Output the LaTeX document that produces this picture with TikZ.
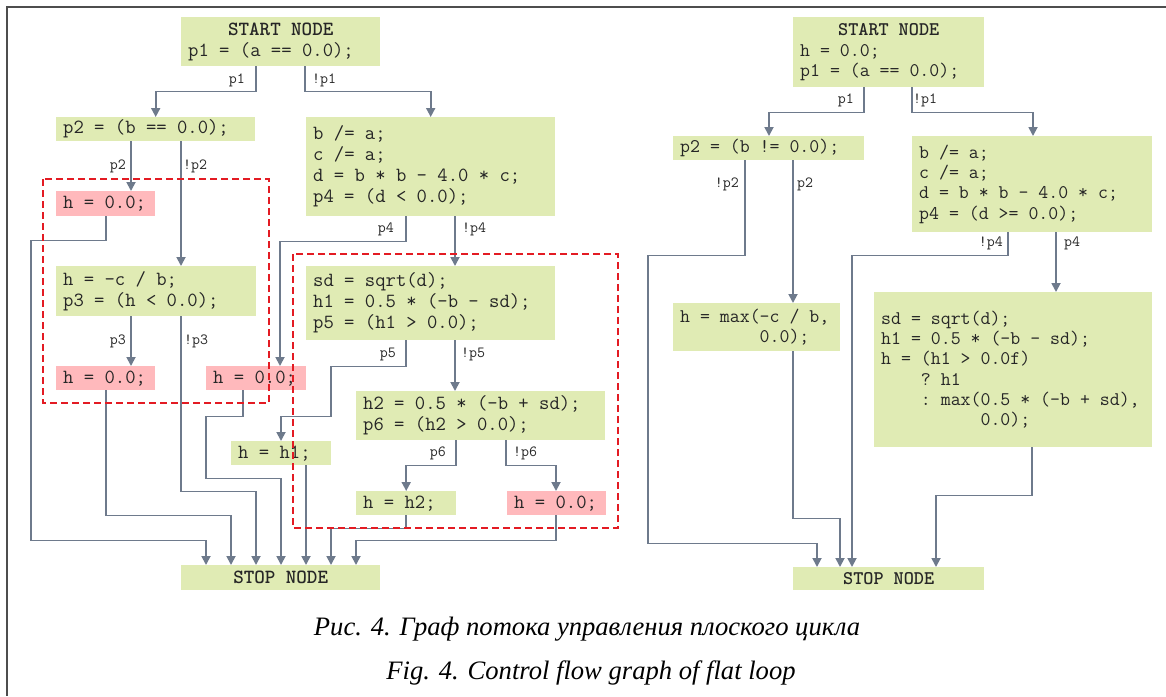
\documentclass[tikz,border=0pt]{standalone}
\usepackage{fontspec}
\setmainfont{Liberation Serif}
\usetikzlibrary{arrows.meta}
\definecolor{bgreen}{HTML}{E0EBB4}
\definecolor{bpink}{HTML}{FFB9BC}
\definecolor{arrgray}{HTML}{6E7A8C}
\definecolor{dred}{HTML}{E31B23}
\definecolor{codetxt}{HTML}{262626}
\definecolor{framegray}{HTML}{4D4D4D}
\newcommand\codeL{\fontsize{20.1}{21}\selectfont\ttfamily}
\newcommand\codeR{\fontsize{19.3}{20.3}\selectfont\ttfamily}
\newcommand\lblfont{\fontsize{15.5}{17}\selectfont\ttfamily}
\newcommand\fixspace{\spaceskip=\fontcharwd\font`\0\relax\xspaceskip=\fontcharwd\font`\0\relax}
\tikzset{
  cbox/.style={fill=bgreen, anchor=north west, inner xsep=7pt, inner ysep=0pt, align=left, font=\codeL, text=codetxt, execute at begin node=\fixspace},
  rbox/.style={cbox, font=\codeR},
  pbox/.style={cbox, fill=bpink},
  lbl/.style={font=\lblfont, text=codetxt, inner sep=0pt},
  arr/.style={draw=arrgray, line width=1.8pt, -{Triangle[length=9pt,width=9pt]}},
  redbox/.style={draw=dred, line width=2pt, dash pattern=on 7pt off 4pt},
  captxt/.style={font=\fontsize{26.6}{30}\selectfont\itshape, text=black, inner sep=0pt}
}
\begin{document}
\begin{tikzpicture}[x=1pt,y=-1pt]
\useasboundingbox (0,0) rectangle (1166,696);
\fill[white] (0,0) rectangle (1166,696);
\draw[framegray, line width=2.5pt] (1166,7) -- (7,7) -- (7,696);

% ---------- left graph: nodes ----------
\node[cbox, text width=185pt, minimum height=49pt] (s1) at (181,17) {\makebox[185pt]{\bfseries START NODE}\\p1 = (a == 0.0);};
\node[cbox, text width=185pt, minimum height=24pt] (p2a) at (56,117) {p2 = (b == 0.0);};
\node[cbox, text width=235pt, minimum height=99pt] (ba1) at (306,117) {b /= a;\\c /= a;\\d = b * b - 4.0 * c;\\p4 = (d < 0.0);};
\node[pbox, text width=85pt, minimum height=25pt] (h0a) at (56,191) {\mbox{h = 0.0;}};
\node[cbox, text width=186pt, minimum height=50pt] (hcb) at (56,266) {h = -c / b;\\p3 = (h < 0.0);};
\node[pbox, text width=85pt, minimum height=24pt] (h0b) at (56,366) {\mbox{h = 0.0;}};
\node[pbox, text width=86pt, minimum height=24pt] (h0c) at (206,366) {\mbox{h = 0.0;}};
\node[cbox, text width=235pt, minimum height=74pt] (sd1) at (306,266) {sd = sqrt(d);\\h1 = 0.5 * (-b - sd);\\p5 = (h1 > 0.0);};
\node[cbox, text width=235pt, minimum height=49pt] (h2b) at (356,391) {h2 = 0.5 * (-b + sd);\\p6 = (h2 > 0.0);};
\node[cbox, text width=86pt, minimum height=24pt] (hh1) at (231,441) {\mbox{h = h1;}};
\node[cbox, text width=86pt, minimum height=24pt] (hh2) at (356,491) {\mbox{h = h2;}};
\node[pbox, text width=85pt, minimum height=24pt] (h0d) at (507,491) {\mbox{h = 0.0;}};
\node[cbox, text width=185pt, minimum height=25pt] (stop1) at (181,565) {\makebox[185pt]{\bfseries STOP NODE}};

% ---------- left graph: connectors ----------
\draw[arr] (s1.south -| 256,0) -- ++(0,25) -| (p2a.north);
\draw[arr] (s1.south -| 305,0) -- ++(0,25) -| (ba1.north);
\draw[arr] (p2a.south -| 131,0) -- (h0a.north -| 131,0);
\draw[arr] (p2a.south -| 181,0) -- (hcb.north -| 181,0);
\draw[arr] (h0a.south -| 106,0) -- ++(0,24) -- ++(-75,0) -- ++(0,300) -| (stop1.north -| 206,0);
\draw[arr] (hcb.south -| 131,0) -- (h0b.north -| 131,0);
\draw[arr] (hcb.south -| 181,0) -- ++(0,175) -| (stop1.north -| 256,0);
\draw[arr] (h0b.south -| 106,0) -- ++(0,125) -| (stop1.north -| 231,0);
\draw[arr] (ba1.south -| 406,0) -- ++(0,25) -| (h0c.north -| 280,0);
\draw[arr] (ba1.south -| 455,0) -- (sd1.north -| 455,0);
\draw[arr] (h0c.south -| 243,0) -- ++(0,26) -- ++(-37,0) -- ++(0,62) -| (stop1.north -| 281,0);
\draw[arr] (sd1.south -| 406,0) -- ++(0,26) -- ++(-75,0) -- ++(0,50) -| (hh1.north -| 281,0);
\draw[arr] (sd1.south -| 455,0) -- (h2b.north -| 455,0);
\draw[arr] (hh1.south -| 306,0) -- (stop1.north -| 306,0);
\draw[arr] (h2b.south -| 456,0) -- ++(0,25) -| (hh2.north);
\draw[arr] (h2b.south -| 506,0) -- ++(0,25) -| (h0d.north -| 556,0);
\draw[arr] (hh2.south -| 406,0) -- ++(0,13) -| (stop1.north -| 331,0);
\draw[arr] (h0d.south -| 556,0) -- ++(0,25) -| (stop1.north -| 356,0);

% ---------- left graph: labels ----------
\node[lbl, anchor=east] (lp1) at (245,80) {p1};
\node[lbl, anchor=west] (lnp1) at (312,80) {!p1};
\node[lbl, anchor=east] (lp2) at (126,166) {p2};
\node[lbl, anchor=west] (lnp2) at (183,166) {!p2};
\node[lbl, anchor=east] (lp4) at (394,229) {p4};
\node[lbl, anchor=west] (lnp4) at (462,229) {!p4};
\node[lbl, anchor=east] (lp3) at (126,341) {p3};
\node[lbl, anchor=west] (lnp3) at (184,341) {!p3};
\node[lbl, anchor=east] (lp5) at (396,354) {p5};
\node[lbl, anchor=west] (lnp5) at (461,354) {!p5};
\node[lbl, anchor=east] (lp6) at (446,453) {p6};
\node[lbl, anchor=west] (lnp6) at (513,453) {!p6};

% ---------- dashed regions ----------
\draw[redbox] (43,179) rectangle (269,403);
\draw[redbox] (293,254) rectangle (618,528);

% ---------- right graph: nodes ----------
\node[rbox, text width=177pt, minimum height=70pt] (s2) at (793,17) {\makebox[177pt]{\bfseries START NODE}\\h = 0.0;\\p1 = (a == 0.0);};
\node[rbox, text width=177pt, minimum height=24pt] (p2b) at (673,136) {p2 = (b != 0.0);};
\node[rbox, text width=226pt, minimum height=96pt] (ba2) at (912,136) {b /= a;\\c /= a;\\d = b * b - 4.0 * c;\\p4 = (d >= 0.0);};
\node[rbox, text width=153pt, minimum height=48pt] (mx) at (673,303) {\mbox{h = max(-c / b,}\\\hphantom{00000000}0.0);};
\node[rbox, text width=264pt, minimum height=155pt] (sd2) at (874,292) {sd = sqrt(d);\\h1 = 0.5 * (-b - sd);\\h = (h1 > 0.0f)\\\hphantom{0000}? h1\\\mbox{\hphantom{0000}: max(0.5 * (-b + sd),}\\\hphantom{0000000000}0.0);};
\node[rbox, text width=177pt, minimum height=23pt] (stop2) at (793,567) {\makebox[177pt]{\bfseries STOP NODE}};

% ---------- right graph: connectors ----------
\draw[arr] (s2.south -| 864,0) -- ++(0,25) -| (p2b.north -| 769,0);
\draw[arr] (s2.south -| 912,0) -- ++(0,25) -| (ba2.north -| 1033,0);
\draw[arr] (p2b.south -| 745,0) -- ++(0,95) -- ++(-97,0) -- ++(0,288) -| (stop2.north -| 817,0);
\draw[arr] (p2b.south -| 793,0) -- (mx.north -| 793,0);
\draw[arr] (mx.south -| 793,0) -- ++(0,167) -| (stop2.north -| 840,0);
\draw[arr] (ba2.south -| 1008,0) -- ++(0,23) -| (stop2.north -| 852,0);
\draw[arr] (ba2.south -| 1056,0) -- (sd2.north -| 1056,0);
\draw[arr] (sd2.south -| 1032,0) -- ++(0,48) -| (stop2.north -| 936,0);

% ---------- right graph: labels ----------
\node[lbl, anchor=east] (rp1) at (854,100) {p1};
\node[lbl, anchor=west] (rnp1) at (913,100) {!p1};
\node[lbl, anchor=east] (rnp2) at (739,184) {!p2};
\node[lbl, anchor=west] (rp2) at (797,184) {p2};
\node[lbl, anchor=east] (rnp4) at (1003,243) {!p4};
\node[lbl, anchor=west] (rp4) at (1064,243) {p4};

% ---------- captions ----------
\node[captxt] (capru) at (587,629) {Рис. 4. Граф потока управления плоского цикла};
\node[captxt] (capen) at (591,673) {Fig. 4. Control flow graph of flat loop};
\end{tikzpicture}
\end{document}
